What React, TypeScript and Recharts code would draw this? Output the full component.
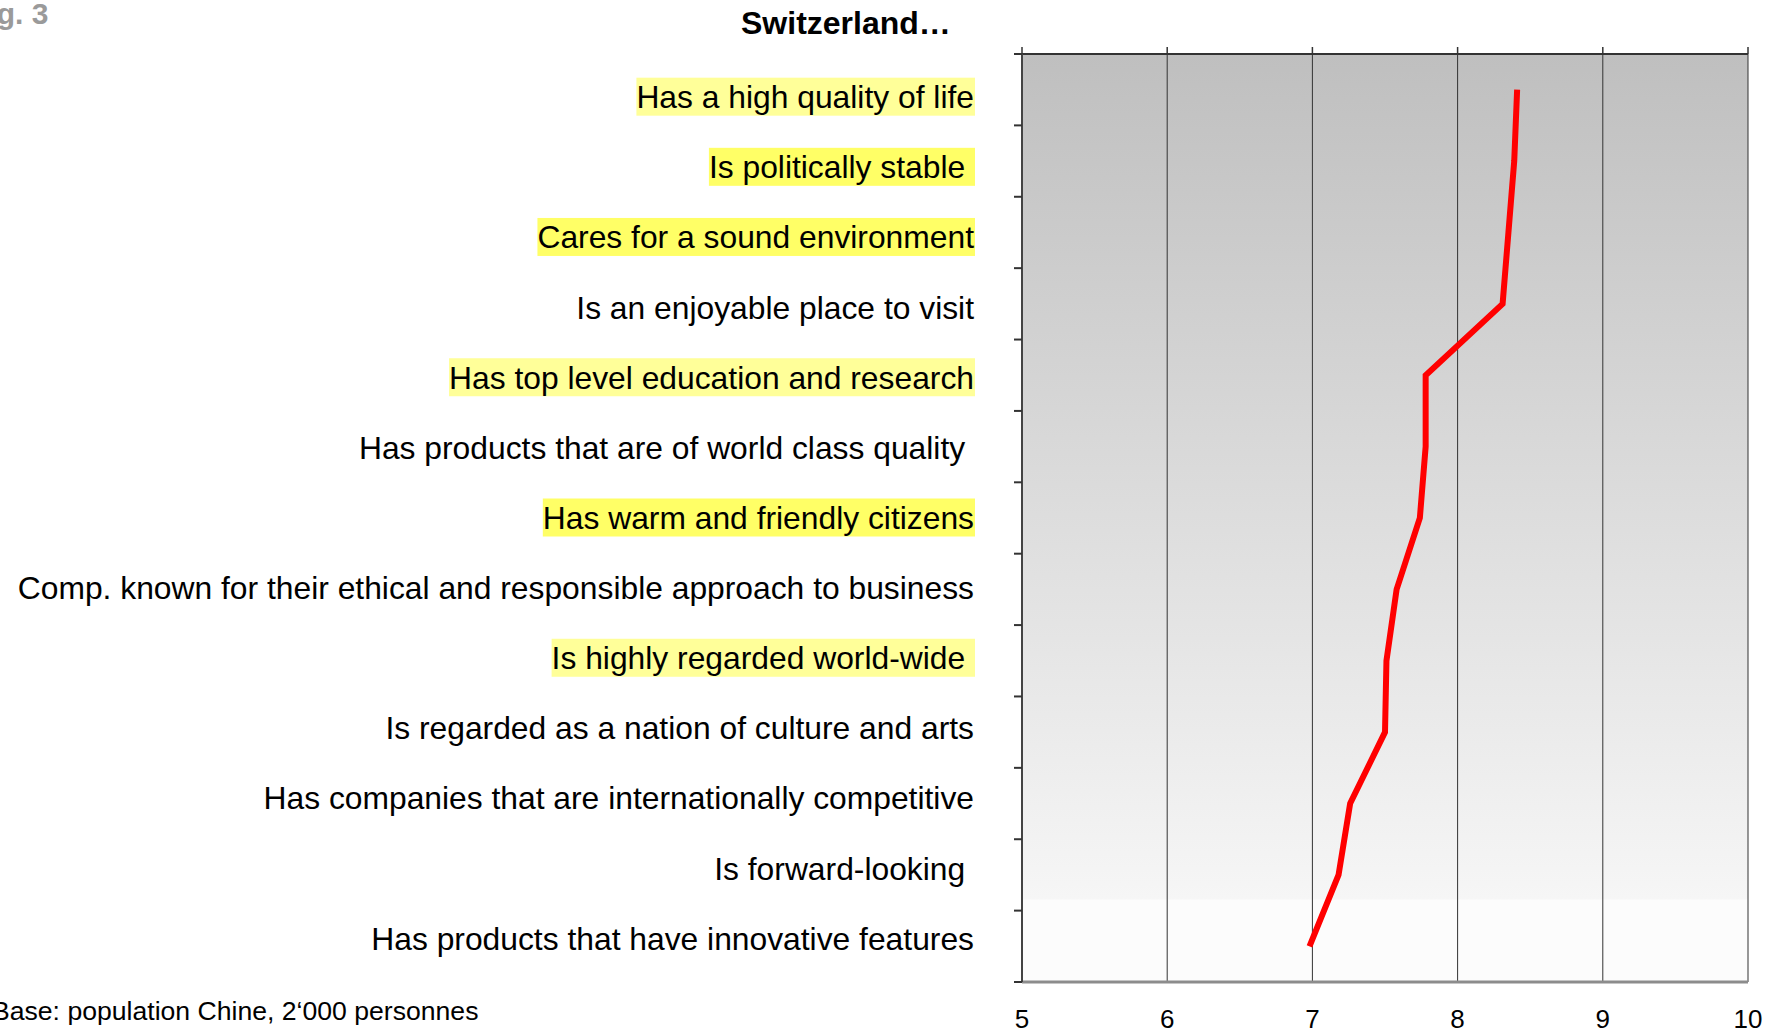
import { CartesianGrid, Line, LineChart, XAxis, YAxis } from "recharts";

const LABELS = [
  "Has a high quality of life",
  "Is politically stable ",
  "Cares for a sound environment",
  "Is an enjoyable place to visit",
  "Has top level education and research",
  "Has products that are of world class quality ",
  "Has warm and friendly citizens",
  "Comp. known for their ethical and responsible approach to business",
  "Is highly regarded world-wide ",
  "Is regarded as a nation of culture and arts",
  "Has companies that are internationally competitive",
  "Is forward-looking ",
  "Has products that have innovative features",
];

const SCORES = [8.41, 8.39, 8.35, 8.31, 7.78, 7.78, 7.74, 7.58, 7.51, 7.5, 7.26, 7.18, 6.98];

const X_TICKS = [5, 6, 7, 8, 9, 10];

const data = LABELS.map((label, i) => ({ label, score: SCORES[i] }));

// yellow marker behind some of the statements
const HIGHLIGHT: Record<number, string> = {
  0: "#ffff99",
  1: "#ffff66",
  2: "#ffff66",
  4: "#ffff99",
  6: "#ffff66",
  8: "#ffff99",
};

const W = 1776;
const H = 1033;
const TOP = 54;
const LEFT = 1022;
const RIGHT = 1748;
const BOTTOM = 982;
const FONT = '"Liberation Sans", Arial, Helvetica, sans-serif';
const LABEL_SIZE = 31.8;
const TICK_SIZE = 8;
const TICK_MARGIN = 40;

let ctx: CanvasRenderingContext2D | null = null;
function textWidth(s: string) {
  if (!ctx) ctx = document.createElement("canvas").getContext("2d");
  if (!ctx) return s.length * LABEL_SIZE * 0.5;
  ctx.font = `${LABEL_SIZE}px ${FONT}`;
  return ctx.measureText(s).width;
}

function LabelTick(props: any) {
  const { x, y, payload, index } = props;
  const half = payload?.offset || (BOTTOM - TOP) / LABELS.length / 2;
  const axisX = x + TICK_SIZE + TICK_MARGIN;
  // the statements are spaced slightly tighter than the bands
  const ty = y + 7 - index * 1.25;
  const text = String(payload.value);
  const bg = HIGHLIGHT[index];
  const w = bg ? textWidth(text) : 0;
  return (
    <g>
      <line x1={axisX - TICK_SIZE} x2={axisX} y1={y - half} y2={y - half} stroke="#333" strokeWidth={2} />
      {index === LABELS.length - 1 && (
        <line x1={axisX - TICK_SIZE} x2={axisX} y1={y + half} y2={y + half} stroke="#333" strokeWidth={2} />
      )}
      {bg && <rect x={x - w} y={ty - 19} width={w + 1} height={38} fill={bg} />}
      <text
        x={x}
        y={ty}
        dy="0.36em"
        textAnchor="end"
        fontSize={LABEL_SIZE}
        fill="#000"
        style={{ whiteSpace: "pre" }}
      >
        {text}
      </text>
    </g>
  );
}

export default function App() {
  return (
    <div style={{ position: "relative", width: W, height: H, fontFamily: FONT, background: "#fff", overflow: "hidden" }}>
      <style>{"body{margin:0}"}</style>
      <div
        style={{
          position: "absolute",
          left: -30,
          top: -4,
          fontSize: 30,
          fontWeight: "bold",
          color: "#9a9a9a",
          whiteSpace: "nowrap",
          lineHeight: "36px",
        }}
      >
        Fig. 3
      </div>
      <div
        style={{
          position: "absolute",
          left: 741,
          width: 200,
          textAlign: "center",
          top: 4,
          fontSize: 32,
          fontWeight: "bold",
          color: "#000",
          whiteSpace: "nowrap",
          lineHeight: "38px",
        }}
      >
        Switzerland…
      </div>
      <div
        style={{
          position: "absolute",
          left: -8,
          top: 995,
          fontSize: 26.6,
          color: "#000",
          whiteSpace: "nowrap",
          lineHeight: "32px",
        }}
      >
        Base: population Chine, 2‘000 personnes
      </div>
      <div style={{ position: "absolute", left: 0, top: 0 }}>
        <LineChart
          width={W}
          height={H}
          data={data}
          layout="vertical"
          margin={{ top: TOP - 1, right: W - RIGHT, bottom: H - BOTTOM - 50, left: 0 }}
        >
          <defs>
            <linearGradient id="plotBg" x1="0" y1="0" x2="0" y2="1">
              <stop offset="0%" stopColor="#bfbfbf" />
              <stop offset="91%" stopColor="#f6f6f6" />
              <stop offset="91.2%" stopColor="#fcfcfc" />
              <stop offset="100%" stopColor="#fcfcfc" />
            </linearGradient>
          </defs>
          <CartesianGrid horizontal={false} stroke="#333" strokeWidth={1} fill="url(#plotBg)" fillOpacity={1} />
          <XAxis
            type="number"
            dataKey="score"
            domain={[5, 10]}
            ticks={X_TICKS}
            allowDataOverflow
            height={50}
            axisLine={{ stroke: "#8c8c8c", strokeWidth: 3 }}
            tickLine={false}
            tickSize={6}
            tickMargin={22}
            tick={{ fontSize: 26, fill: "#000" }}
          />
          <XAxis
            xAxisId="top"
            orientation="top"
            type="number"
            dataKey="score"
            domain={[5, 10]}
            ticks={X_TICKS}
            allowDataOverflow
            height={1}
            axisLine={{ stroke: "#333", strokeWidth: 2 }}
            tickLine={{ stroke: "#333", strokeWidth: 1.5 }}
            tickSize={7}
            tick={{ fontSize: 1, fill: "transparent" }}
            tickFormatter={() => ""}
          />
          <YAxis
            type="category"
            dataKey="label"
            scale="band"
            width={LEFT}
            interval={0}
            axisLine={{ stroke: "#444", strokeWidth: 2 }}
            tickLine={false}
            tickSize={TICK_SIZE}
            tickMargin={TICK_MARGIN}
            tick={<LabelTick />}
          />
          <YAxis
            yAxisId="right"
            orientation="right"
            type="category"
            dataKey="label"
            scale="band"
            width={0}
            axisLine={{ stroke: "#8c8c8c", strokeWidth: 3 }}
            tickLine={false}
            tick={false}
          />
          <Line
            type="linear"
            dataKey="score"
            stroke="#ff0000"
            strokeWidth={6}
            dot={false}
            activeDot={false}
            isAnimationActive={false}
          />
        </LineChart>
      </div>
    </div>
  );
}
